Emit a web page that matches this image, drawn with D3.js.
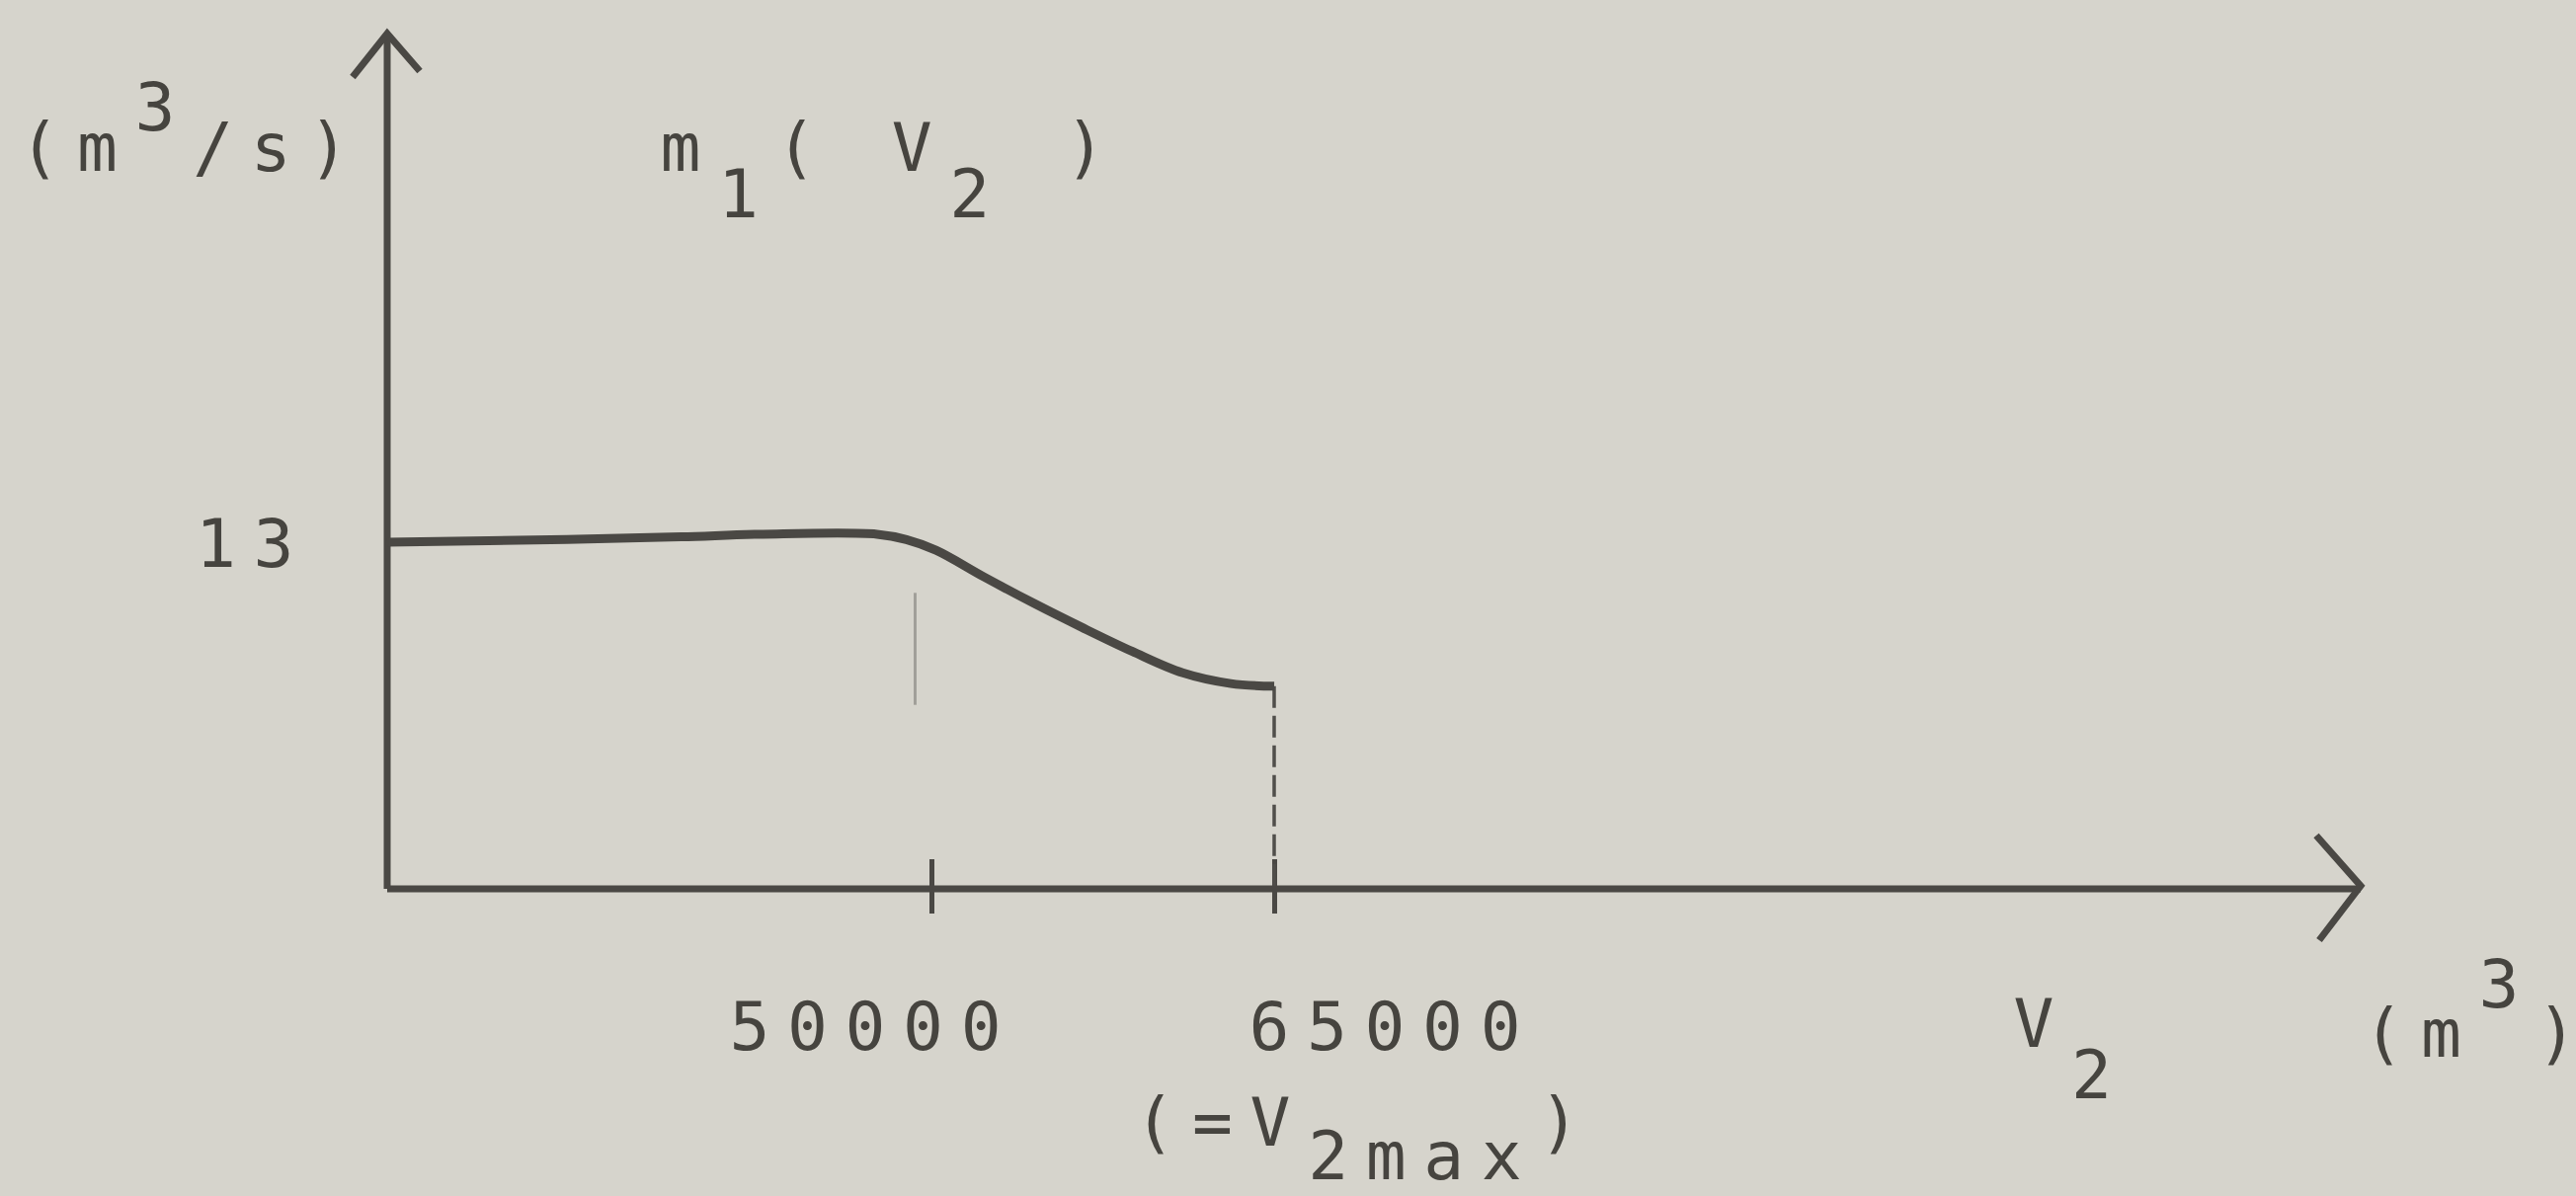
<!DOCTYPE html>
<html>
<head>
<meta charset="utf-8">
<script src="https://cdn.jsdelivr.net/npm/d3@7"></script>
<style>
  html, body { margin: 0; padding: 0; background: #d6d4cc; }
  svg { display: block; }
  text {
    font-family: "DejaVu Sans Mono", monospace;
    font-size: 68px;
    fill: #46443f;
    letter-spacing: 17.6px;
  }
</style>
</head>
<body>
<div id="chart"></div>
<script>
// --- données ---
const v2Values = [0, 16500, 27000, 34500, 45000, 47700, 50200, 52300, 54500, 56600, 58800, 61000, 63100, 65000];
const m1Values = [13.0, 13.1, 13.2, 13.3, 13.3, 13.1, 12.7, 11.7, 10.7, 9.8, 8.9, 8.1, 7.7, 7.6];

const xTickValues = [50000, 65000];
const xTickLabels = ["50000", "65000"];
const yTickValues = [13];
const yTickLabels = ["13"];

const v2Max = 65000;       // fin de la courbe (ligne pointillée)
const guideV2 = 48500;     // trait fin vertical, à peine visible
const guideM1 = [11.1, 6.9];

const width = 2608;
const height = 1211;
const ink = "#4a4844";

const svg = d3.select("#chart").append("svg")
    .attr("width", width)
    .attr("height", height)
    .style("background", "#d6d4cc");

// Échelles : l'axe horizontal du schéma n'est pas à l'échelle, d'où un domaine par morceaux
const x = d3.scaleLinear()
    .domain([0, 50000, 65000, 112500])
    .range([392, 943, 1290, 2390]);

const y = d3.scaleLinear()
    .domain([0, 32])
    .range([900, 36]);

const data = v2Values.map((v, i) => ({ v: v, m: m1Values[i] }));

// --- Axes avec flèches ---
const x0 = x(0), y0 = y(0);
const xEnd = x.range()[x.range().length - 1];
const yTop = y.range()[1] - 2;

svg.append("path")
    .attr("d", `M${x0},${y0} V${yTop}`)
    .attr("stroke", ink).attr("stroke-width", 7).attr("fill", "none");
svg.append("path")
    .attr("d", `M${x0 - 35},${yTop + 44} L${x0},${yTop} L${x0 + 33},${yTop + 38}`)
    .attr("stroke", ink).attr("stroke-width", 7).attr("fill", "none")
    .attr("stroke-linejoin", "miter");

svg.append("path")
    .attr("d", `M${x0},${y0} H${xEnd}`)
    .attr("stroke", ink).attr("stroke-width", 7).attr("fill", "none");
svg.append("path")
    .attr("d", `M${xEnd - 45},${y0 - 54} L${xEnd},${y0 - 3} L${xEnd - 42},${y0 + 52}`)
    .attr("stroke", ink).attr("stroke-width", 7).attr("fill", "none")
    .attr("stroke-linejoin", "miter");

// Graduations de l'axe des abscisses (axe d3, traits prolongés de part et d'autre)
const xAxis = d3.axisBottom(x)
    .tickValues(xTickValues)
    .tickFormat((d, i) => xTickLabels[i])
    .tickSizeOuter(0);

const gx = svg.append("g")
    .attr("transform", `translate(0,${y0})`)
    .call(xAxis);
gx.select(".domain").remove();
gx.selectAll(".tick line")
    .attr("y1", -30).attr("y2", 25)
    .attr("stroke", ink).attr("stroke-width", 5);

// décalage des étiquettes (elles ne sont pas centrées sur les traits dans l'original)
const labelDx = [-205, -26];
gx.selectAll(".tick text")
    .attr("text-anchor", "start")
    .attr("x", (d, i) => labelDx[i])
    .attr("y", 163)
    .attr("dy", null)
    .attr("fill", "#46443f")
    .style("font-size", "68px")
    .style("font-family", "\"DejaVu Sans Mono\", monospace");

// Graduation de l'axe des ordonnées : étiquette seule
const yAxis = d3.axisLeft(y)
    .tickValues(yTickValues)
    .tickFormat((d, i) => yTickLabels[i])
    .tickSize(0);
const gy = svg.append("g")
    .attr("transform", `translate(${x0},0)`)
    .call(yAxis);
gy.select(".domain").remove();
gy.selectAll(".tick text")
    .attr("text-anchor", "start")
    .attr("x", -194)
    .attr("dy", 24)
    .attr("fill", "#46443f")
    .style("font-size", "68px")
    .style("font-family", "\"DejaVu Sans Mono\", monospace");

// --- Lignes de rappel ---
svg.append("line")
    .attr("x1", x(guideV2)).attr("x2", x(guideV2))
    .attr("y1", y(guideM1[0])).attr("y2", y(guideM1[1]))
    .attr("stroke", "#a19f99").attr("stroke-width", 3);

const endPoint = data[data.length - 1];
svg.append("line")
    .attr("x1", x(v2Max)).attr("x2", x(v2Max))
    .attr("y1", y(endPoint.m)).attr("y2", y0)
    .attr("stroke", "#504e4a").attr("stroke-width", 3.5)
    .attr("stroke-dasharray", "22,8");

// --- Courbe m1(V2) ---
const line = d3.line()
    .x(d => x(d.v))
    .y(d => y(d.m))
    .curve(d3.curveCatmullRom.alpha(0.5));

svg.append("path")
    .datum(data)
    .attr("d", line)
    .attr("fill", "none")
    .attr("stroke", ink)
    .attr("stroke-width", 9)
    .attr("stroke-linejoin", "round");

// --- Textes (indices et exposants en tspans) ---
function label(xPos, yPos, parts) {
    const t = svg.append("text").attr("x", xPos).attr("y", yPos);
    parts.forEach((p, i) => {
        const s = p[0];
        const last = i === parts.length - 1;
        if (!last) {
            t.append("tspan").attr("dy", p[1]).text(s);
        } else if (s.length === 1) {
            // pas d'espacement après le dernier caractère
            t.append("tspan").attr("dy", p[1]).style("letter-spacing", "0px").text(s);
        } else {
            t.append("tspan").attr("dy", p[1]).text(s.slice(0, -1));
            t.append("tspan").style("letter-spacing", "0px").text(s.slice(-1));
        }
    });
    return t;
}

// unité de l'axe vertical
label(19.5, 173, [["(m", 0], ["3", -41], ["/s)", 41]]);
// nom de la courbe
label(668.5, 173, [["m", 0], ["1", 47], ["( V", -47], ["2", 47], [" )", -47]]);
// axe horizontal
label(2038.5, 1060, [["V", 0], ["2", 52]]);
label(2392.5, 1070, [["(m", 0], ["3", -50], [")", 50]]);
// V2max
label(1148.5, 1160, [["(=V", 0], ["2max", 34], [")", -34]]);
</script>
</body>
</html>
